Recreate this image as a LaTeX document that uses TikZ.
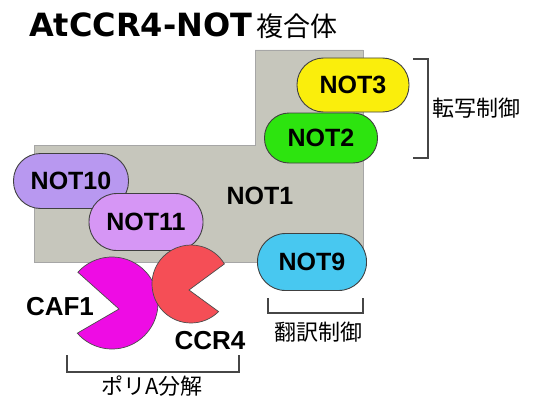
\documentclass[tikz,border=0pt]{standalone}
\usepackage{fontspec}
\setmainfont{Liberation Sans}
\newfontfamily\titlefont{DejaVu Sans}
\newfontfamily\cjk{Noto Sans CJK JP}

\definecolor{notonecol}{RGB}{198,198,188}
\definecolor{notthreecol}{RGB}{250,238,12}
\definecolor{nottwocol}{RGB}{45,228,15}
\definecolor{nottencol}{RGB}{184,152,240}
\definecolor{notelevencol}{RGB}{214,150,245}
\definecolor{notninecol}{RGB}{72,200,240}
\definecolor{cafcol}{RGB}{238,12,228}
\definecolor{ccrcol}{RGB}{245,78,86}
\definecolor{bracketcol}{RGB}{70,70,70}

\begin{document}
\begin{tikzpicture}
  [x=1pt,y=-1pt,
  lab/.style={inner sep=0pt,font=\fontsize{25}{30}\selectfont\bfseries},
  pill/.style={lab,draw=black!75,line width=0.9pt},
  pac/.style={draw=black!70,line width=0.7pt},
  jp/.style={inner sep=0pt,font=\cjk\fontsize{22}{26}\selectfont},
  bracket/.style={draw=bracketcol,line width=1.1pt}]

  \useasboundingbox (0,0) rectangle (535,396);

  \node[anchor=base west,inner sep=0pt] (title) at (29,37)
    {\titlefont\bfseries\fontsize{32}{38}\selectfont AtCCR4-NOT\hspace{4pt}{\cjk\mdseries\fontsize{27}{30}\selectfont 複合体}};

  \fill[notonecol,draw=gray!70] (34,145) -- (255,145) -- (255,50) -- (363,50) -- (363,262) -- (34,262) -- cycle;
  \node[lab] (not1) at (260,196) {NOT1};

  \node[pill,fill=nottwocol,minimum width=113pt,minimum height=50pt,rounded corners=24.5pt] (not2) at (321,138) {NOT2};
  \node[pill,fill=notthreecol,minimum width=112pt,minimum height=54pt,rounded corners=26.5pt] (not3) at (353,85) {NOT3};
  \node[pill,fill=nottencol,minimum width=115pt,minimum height=55pt,rounded corners=27pt] (not10) at (71,181) {NOT10};
  \node[pill,fill=notelevencol,minimum width=114pt,minimum height=57pt,rounded corners=28pt] (not11) at (146,222) {NOT11};
  \node[pill,fill=notninecol,minimum width=109pt,minimum height=57pt,rounded corners=28pt] (not9) at (312,262) {NOT9};

  % deadenylases
  \draw[pac,fill=cafcol] (119,309) -- ([shift={(112,303)}]222:46) arc[start angle=222,end angle=499,radius=46] -- cycle;
  \draw[pac,fill=ccrcol] (189,290) -- ([shift={(191,284)}]45:39) arc[start angle=45,end angle=329,radius=39] -- cycle;
  \node[lab,font=\fontsize{26}{30}\selectfont\bfseries] (caf1) at (60,307) {CAF1};
  \node[lab,font=\fontsize{26}{30}\selectfont\bfseries] (ccr4) at (210,341) {CCR4};

  % brackets
  \draw[bracket] (413,59) -- (428,59) -- (428,158) -- (413,158);
  \node[jp] (transcr) at (476,108) {転写制御};

  \draw[bracket] (268,298) -- (268,313) -- (363,313) -- (363,298);
  \node[jp] (transl) at (318,332) {翻訳制御};

  \draw[bracket] (67,355) -- (67,372) -- (239,372) -- (239,355);
  \node[jp] (polya) at (152,386) {ポリA分解};

\end{tikzpicture}
\end{document}
